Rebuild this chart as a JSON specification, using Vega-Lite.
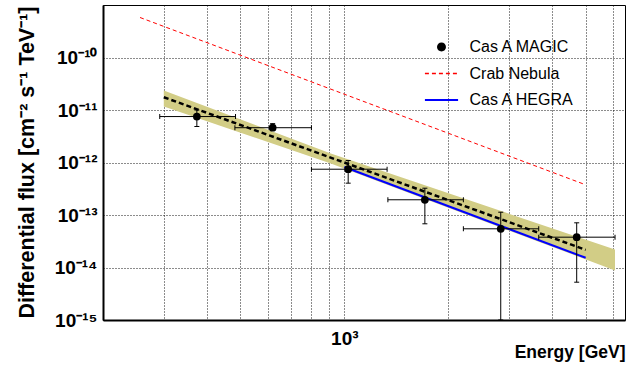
{
  "$schema": "https://vega.github.io/schema/vega-lite/v6.json",
  "width": 522,
  "height": 315,
  "autosize": {"type": "none"},
  "padding": {"left": 103, "top": 5, "right": 17, "bottom": 45},
  "background": "white",
  "config": {"view": {"stroke": "black", "strokeWidth": 1}, "font": "Liberation Sans"},
  "data": {"values": [
    {"series": "Cas A MAGIC", "E": 374, "F": 7.5e-12, "Elo": 292, "Ehi": 484, "Flo": 4.85e-12, "Fhi": 1.0e-11},
    {"series": "Cas A MAGIC", "E": 620, "F": 4.6e-12, "Elo": 482, "Ehi": 803, "Flo": 4.1e-12, "Fhi": 5.5e-12},
    {"series": "Cas A MAGIC", "E": 1026, "F": 7.45e-13, "Elo": 803, "Ehi": 1330, "Flo": 4.04e-13, "Fhi": 1.09e-12},
    {"series": "Cas A MAGIC", "E": 1711, "F": 1.95e-13, "Elo": 1337, "Ehi": 2212, "Flo": 6.8e-14, "Fhi": 3.24e-13},
    {"series": "Cas A MAGIC", "E": 2838, "F": 5.46e-14, "Elo": 2212, "Ehi": 3656, "Flo": 1.0e-15, "Fhi": 1.13e-13},
    {"series": "Cas A MAGIC", "E": 4710, "F": 3.78e-14, "Elo": 3656, "Ehi": 6082, "Flo": 5.25e-15, "Fhi": 7.1e-14},
    {"series": "Crab Nebula", "E": 256, "F": 5.78e-10},
    {"series": "Crab Nebula", "E": 5000, "F": 3.76e-13},
    {"series": "Cas A HEGRA", "E": 1000, "F": 8.2e-13},
    {"series": "Cas A HEGRA", "E": 5000, "F": 1.53e-14},
    {"series": "fit", "E": 300, "F": 1.75e-11},
    {"series": "fit", "E": 5000, "F": 2.17e-14},
    {"series": "band", "E": 300, "Flo": 1.16e-11, "Fhi": 2.34e-11},
    {"series": "band", "E": 914, "Flo": 9.6e-13, "Fhi": 1.48e-12},
    {"series": "band", "E": 6080, "Flo": 8.8e-15, "Fhi": 2.2e-14}
  ]},
  "layer": [
    {
      "transform": [{"filter": "datum.series === 'band'"}],
      "mark": {"type": "area", "color": "#d2cd86", "opacity": 1},
      "encoding": {
        "x": {"field": "E", "type": "quantitative", "title": "Energy [GeV]",
          "scale": {"type": "log", "domain": [200, 6500], "nice": false},
          "axis": {
            "values": [300, 400, 500, 600, 700, 800, 900, 1000, 2000, 3000, 4000, 5000, 6000],
            "labelExpr": "datum.value == 1000 ? '10³' : ''",
            "labelOverlap": false, "labelBound": false, "labelFlush": false,
            "labelFont": "Liberation Sans", "labelFontSize": 19, "labelFontWeight": "bold", "labelColor": "black",
            "labelPadding": 9,
            "ticks": false,
            "grid": true, "gridColor": "black", "gridDash": [1, 2], "gridWidth": 1, "gridOpacity": 0.9,
            "domainColor": "black", "domainWidth": 2,
            "titleFont": "Liberation Sans", "titleFontSize": 17.5, "titleFontWeight": "bold", "titleColor": "black",
            "titleAnchor": "end", "titleAlign": "right", "titleX": 522, "titleY": 37, "titleBaseline": "alphabetic"
          }
        },
        "y": {"field": "Flo", "type": "quantitative", "title": "Differential flux [cm⁻² s⁻¹ TeV⁻¹]",
          "scale": {"type": "log", "domain": [1e-15, 1e-9], "nice": false},
          "axis": {
            "values": [1e-15, 2e-15, 3e-15, 4e-15, 5e-15, 6e-15, 7e-15, 8e-15, 9e-15,
                       1e-14, 2e-14, 3e-14, 4e-14, 5e-14, 6e-14, 7e-14, 8e-14, 9e-14,
                       1e-13, 2e-13, 3e-13, 4e-13, 5e-13, 6e-13, 7e-13, 8e-13, 9e-13,
                       1e-12, 2e-12, 3e-12, 4e-12, 5e-12, 6e-12, 7e-12, 8e-12, 9e-12,
                       1e-11, 2e-11, 3e-11, 4e-11, 5e-11, 6e-11, 7e-11, 8e-11, 9e-11,
                       1e-10, 2e-10, 3e-10, 4e-10, 5e-10, 6e-10, 7e-10, 8e-10, 9e-10, 1e-9],
            "labelExpr": "abs(log(datum.value)/LN10-round(log(datum.value)/LN10))>0.01 ? '' : round(log(datum.value)/LN10)==-15 ? '10⁻¹⁵' : round(log(datum.value)/LN10)==-14 ? '10⁻¹⁴' : round(log(datum.value)/LN10)==-13 ? '10⁻¹³' : round(log(datum.value)/LN10)==-12 ? '10⁻¹²' : round(log(datum.value)/LN10)==-11 ? '10⁻¹¹' : round(log(datum.value)/LN10)==-10 ? '10⁻¹⁰' : ''",
            "labelOverlap": false, "labelBound": false, "labelFlush": false,
            "labelFont": "Liberation Sans", "labelFontSize": 19, "labelFontWeight": "bold", "labelColor": "black",
            "labelPadding": 6,
            "tickSize": 0, "tickColor": "black", "tickWidth": 1,
            "encode": {"ticks": {"update": {"x2": {"signal": "abs(log(datum.value)/LN10-round(log(datum.value)/LN10))<0.01 ? 14 : 7"}}}},
            "grid": true, "gridColor": "black", "gridDash": [1, 2], "gridWidth": 1,
            "gridOpacity": {"condition": {"test": "abs(log(datum.value)/LN10-round(log(datum.value)/LN10))<0.01", "value": 0.9}, "value": 0},
            "domainColor": "black", "domainWidth": 2,
            "titleFont": "Liberation Sans", "titleFontSize": 21.5, "titleFontWeight": "bold", "titleColor": "black",
            "titleAngle": -90, "titleAlign": "center", "titleBaseline": "alphabetic", "titleX": -70, "titleY": 157
          }
        },
        "y2": {"field": "Fhi"}
      }
    },
    {
      "transform": [{"filter": "datum.series === 'Crab Nebula'"}],
      "mark": {"type": "line", "strokeWidth": 1, "strokeDash": [4, 3]},
      "encoding": {
        "x": {"field": "E", "type": "quantitative", "title": "Energy [GeV]"},
        "y": {"field": "F", "type": "quantitative", "title": "Differential flux [cm⁻² s⁻¹ TeV⁻¹]"},
        "color": {"field": "series", "type": "nominal",
          "scale": {"domain": ["Cas A MAGIC", "Crab Nebula", "Cas A HEGRA"], "range": ["black", "#ff0000", "#0000ff"]},
          "legend": {
            "title": null, "orient": "none", "legendX": 330.5, "legendY": 34,
            "padding": 0, "rowPadding": 10.5, "symbolSize": 1100, "labelOffset": 20,
            "labelFont": "Liberation Sans", "labelFontSize": 16, "labelColor": "black",
            "encode": {"symbols": {"update": {
              "shape": {"signal": "datum.value === 'Cas A MAGIC' ? 'M-1,0M1,0M0.27,0A0.27,0.27,0,1,1,-0.27,0A0.27,0.27,0,1,1,0.27,0Z' : 'stroke'"},
              "size": {"value": 1100},
              "fill": {"signal": "datum.value === 'Cas A MAGIC' ? 'black' : 'transparent'"},
              "fillOpacity": {"value": 1},
              "stroke": {"signal": "datum.value === 'Crab Nebula' ? '#ff0000' : datum.value === 'Cas A HEGRA' ? '#0000ff' : 'black'"},
              "strokeOpacity": {"value": 1},
              "strokeWidth": {"signal": "datum.value === 'Cas A MAGIC' ? 0 : datum.value === 'Crab Nebula' ? 1.5 : 2"},
              "strokeDash": {"signal": "datum.value === 'Crab Nebula' ? [4, 3] : [1, 0]"},
              "opacity": {"value": 1}
            }}}
          }
        }
      }
    },
    {
      "transform": [{"filter": "datum.series === 'Cas A HEGRA'"}],
      "mark": {"type": "line", "strokeWidth": 2},
      "encoding": {
        "x": {"field": "E", "type": "quantitative", "title": "Energy [GeV]"},
        "y": {"field": "F", "type": "quantitative", "title": "Differential flux [cm⁻² s⁻¹ TeV⁻¹]"},
        "color": {"field": "series", "type": "nominal",
          "scale": {"domain": ["Cas A MAGIC", "Crab Nebula", "Cas A HEGRA"], "range": ["black", "#ff0000", "#0000ff"]},
          "legend": {
            "title": null, "orient": "none", "legendX": 330.5, "legendY": 34,
            "padding": 0, "rowPadding": 10.5, "symbolSize": 1100, "labelOffset": 20,
            "labelFont": "Liberation Sans", "labelFontSize": 16, "labelColor": "black",
            "encode": {"symbols": {"update": {
              "shape": {"signal": "datum.value === 'Cas A MAGIC' ? 'M-1,0M1,0M0.27,0A0.27,0.27,0,1,1,-0.27,0A0.27,0.27,0,1,1,0.27,0Z' : 'stroke'"},
              "size": {"value": 1100},
              "fill": {"signal": "datum.value === 'Cas A MAGIC' ? 'black' : 'transparent'"},
              "fillOpacity": {"value": 1},
              "stroke": {"signal": "datum.value === 'Crab Nebula' ? '#ff0000' : datum.value === 'Cas A HEGRA' ? '#0000ff' : 'black'"},
              "strokeOpacity": {"value": 1},
              "strokeWidth": {"signal": "datum.value === 'Cas A MAGIC' ? 0 : datum.value === 'Crab Nebula' ? 1.5 : 2"},
              "strokeDash": {"signal": "datum.value === 'Crab Nebula' ? [4, 3] : [1, 0]"},
              "opacity": {"value": 1}
            }}}
          }
        }
      }
    },
    {
      "transform": [{"filter": "datum.series === 'fit'"}],
      "mark": {"type": "line", "strokeWidth": 2.5, "strokeDash": [5, 3], "color": "black"},
      "encoding": {
        "x": {"field": "E", "type": "quantitative", "title": "Energy [GeV]"},
        "y": {"field": "F", "type": "quantitative", "title": "Differential flux [cm⁻² s⁻¹ TeV⁻¹]"}
      }
    },
    {
      "transform": [{"filter": "datum.series === 'Cas A MAGIC'"}],
      "mark": {"type": "rule", "color": "black", "strokeWidth": 1},
      "encoding": {
        "x": {"field": "Elo", "type": "quantitative", "title": "Energy [GeV]"},
        "x2": {"field": "Ehi"},
        "y": {"field": "F", "type": "quantitative", "title": "Differential flux [cm⁻² s⁻¹ TeV⁻¹]"}
      }
    },
    {
      "transform": [{"filter": "datum.series === 'Cas A MAGIC'"}],
      "mark": {"type": "rule", "color": "black", "strokeWidth": 1},
      "encoding": {
        "x": {"field": "E", "type": "quantitative", "title": "Energy [GeV]"},
        "y": {"field": "Flo", "type": "quantitative", "title": "Differential flux [cm⁻² s⁻¹ TeV⁻¹]"},
        "y2": {"field": "Fhi"}
      }
    },
    {
      "transform": [{"filter": "datum.series === 'Cas A MAGIC'"}],
      "mark": {"type": "tick", "orient": "vertical", "size": 5, "thickness": 1, "color": "black", "opacity": 1},
      "encoding": {
        "x": {"field": "Elo", "type": "quantitative", "title": "Energy [GeV]"},
        "y": {"field": "F", "type": "quantitative", "title": "Differential flux [cm⁻² s⁻¹ TeV⁻¹]"}
      }
    },
    {
      "transform": [{"filter": "datum.series === 'Cas A MAGIC'"}],
      "mark": {"type": "tick", "orient": "vertical", "size": 5, "thickness": 1, "color": "black", "opacity": 1},
      "encoding": {
        "x": {"field": "Ehi", "type": "quantitative", "title": "Energy [GeV]"},
        "y": {"field": "F", "type": "quantitative", "title": "Differential flux [cm⁻² s⁻¹ TeV⁻¹]"}
      }
    },
    {
      "transform": [{"filter": "datum.series === 'Cas A MAGIC'"}],
      "mark": {"type": "tick", "orient": "horizontal", "size": 5, "thickness": 1, "color": "black", "opacity": 1},
      "encoding": {
        "x": {"field": "E", "type": "quantitative", "title": "Energy [GeV]"},
        "y": {"field": "Flo", "type": "quantitative", "title": "Differential flux [cm⁻² s⁻¹ TeV⁻¹]"}
      }
    },
    {
      "transform": [{"filter": "datum.series === 'Cas A MAGIC'"}],
      "mark": {"type": "tick", "orient": "horizontal", "size": 5, "thickness": 1, "color": "black", "opacity": 1},
      "encoding": {
        "x": {"field": "E", "type": "quantitative", "title": "Energy [GeV]"},
        "y": {"field": "Fhi", "type": "quantitative", "title": "Differential flux [cm⁻² s⁻¹ TeV⁻¹]"}
      }
    },
    {
      "transform": [{"filter": "datum.series === 'Cas A MAGIC'"}],
      "mark": {"type": "point", "filled": true, "size": 60, "opacity": 1},
      "encoding": {
        "x": {"field": "E", "type": "quantitative", "title": "Energy [GeV]"},
        "y": {"field": "F", "type": "quantitative", "title": "Differential flux [cm⁻² s⁻¹ TeV⁻¹]"},
        "color": {"field": "series", "type": "nominal",
          "scale": {"domain": ["Cas A MAGIC", "Crab Nebula", "Cas A HEGRA"], "range": ["black", "#ff0000", "#0000ff"]},
          "legend": {
            "title": null, "orient": "none", "legendX": 330.5, "legendY": 34,
            "padding": 0, "rowPadding": 10.5, "symbolSize": 1100, "labelOffset": 20,
            "labelFont": "Liberation Sans", "labelFontSize": 16, "labelColor": "black",
            "encode": {"symbols": {"update": {
              "shape": {"signal": "datum.value === 'Cas A MAGIC' ? 'M-1,0M1,0M0.27,0A0.27,0.27,0,1,1,-0.27,0A0.27,0.27,0,1,1,0.27,0Z' : 'stroke'"},
              "size": {"value": 1100},
              "fill": {"signal": "datum.value === 'Cas A MAGIC' ? 'black' : 'transparent'"},
              "fillOpacity": {"value": 1},
              "stroke": {"signal": "datum.value === 'Crab Nebula' ? '#ff0000' : datum.value === 'Cas A HEGRA' ? '#0000ff' : 'black'"},
              "strokeOpacity": {"value": 1},
              "strokeWidth": {"signal": "datum.value === 'Cas A MAGIC' ? 0 : datum.value === 'Crab Nebula' ? 1.5 : 2"},
              "strokeDash": {"signal": "datum.value === 'Crab Nebula' ? [4, 3] : [1, 0]"},
              "opacity": {"value": 1}
            }}}
          }
        }
      }
    }
  ]
}
